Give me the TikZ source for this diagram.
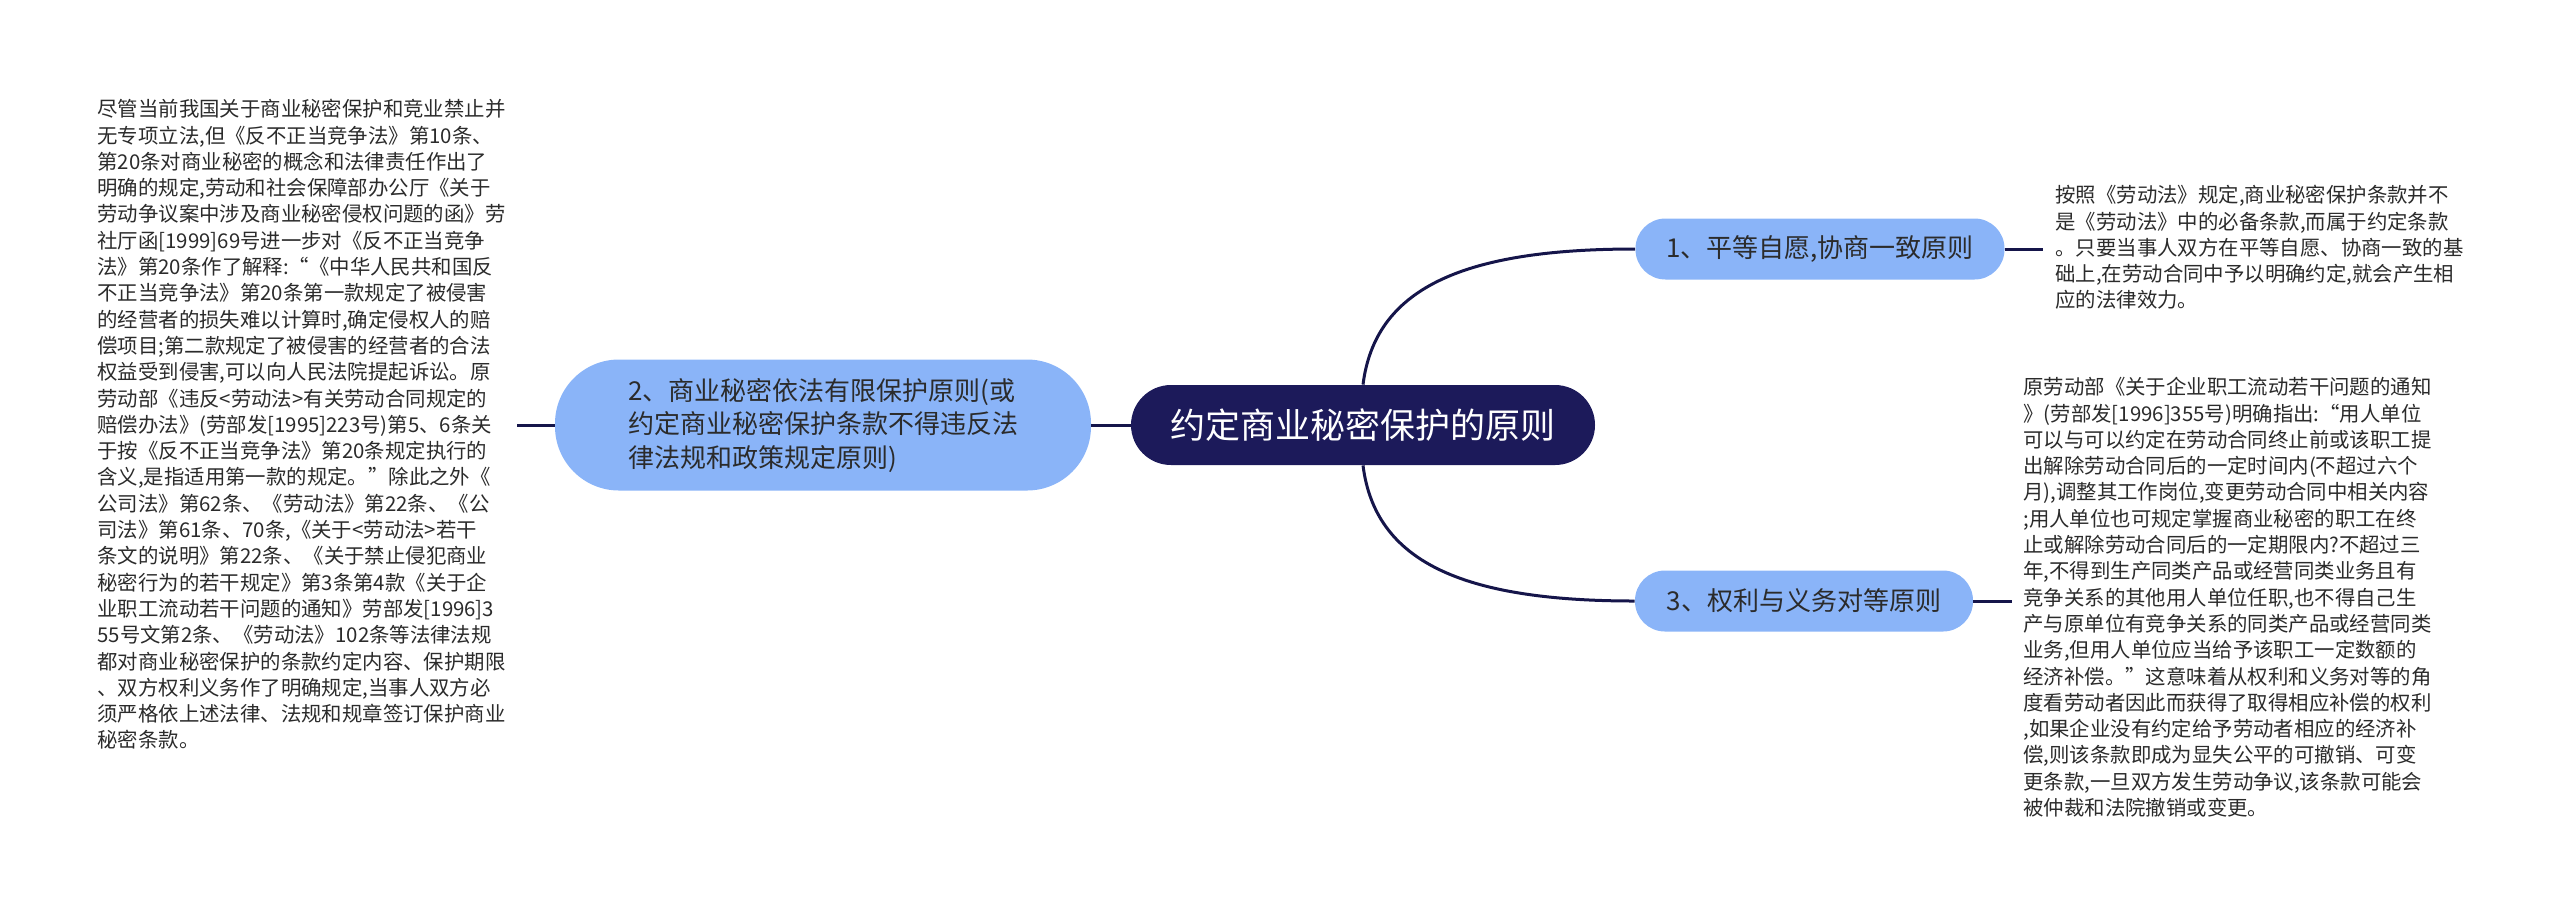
\documentclass[tikz,border=0pt]{standalone}
\usepackage{fontspec}
\newfontfamily\cjk{Noto Sans CJK SC}
\usepackage{xcolor}
\usetikzlibrary{positioning}

\definecolor{navy}{HTML}{1C1A5A}
\definecolor{linenavy}{HTML}{15154A}
\definecolor{topicblue}{HTML}{8AB4F8}
\definecolor{bodytext}{HTML}{2B2B2B}

\tikzset{
  rootbox/.style={fill=navy, text=white, rounded corners=20pt, minimum width=232pt,
    minimum height=40pt, inner sep=0pt, font=\cjk\fontsize{17.5}{21}\selectfont},
  topic/.style={fill=topicblue, text=bodytext, rounded corners=15pt, minimum height=30.5pt,
    inner sep=0pt, font=\cjk\fontsize{13}{16.75}\selectfont},
  note/.style={text=bodytext, align=left, inner sep=0pt, anchor=north west,
    font=\cjk\fontsize{10.2}{13.15}\selectfont},
  link/.style={draw=linenavy, line width=1.5pt},
}

\begin{document}
\begin{tikzpicture}[x=0.5pt, y=-0.5pt]

\useasboundingbox (0,0) rectangle (2560,923);

% Central topic and the three branches
\node[rootbox] (root) at (1363,425) {约定商业秘密保护的原则};
\node[topic, minimum width=184.5pt] (t1) at (1820,249) {1、平等自愿,协商一致原则};
\node[topic, minimum width=268pt, minimum height=65.5pt, rounded corners=32pt, align=left] (t2) at (823,425)
  {2、商业秘密依法有限保护原则(或\\约定商业秘密保护条款不得违反法\\律法规和政策规定原则)};
\node[topic, minimum width=169pt] (t3) at (1804,601) {3、权利与义务对等原则};

% Loose ends of the short stubs
\coordinate (lend) at (517,425);
\coordinate (r1end) at (2043,249);
\coordinate (r3end) at (2012,601);

% Connectors
\draw[link] (root.north) .. controls +(12,-95) and +(-175,0) .. (t1.west);
\draw[link] (root.south) .. controls +(12,95) and +(-175,0) .. (t3.west);
\draw[link] (t2.east) -- (root.west);
\draw[link] (t2.west) -- (lend);
\draw[link] (t1.east) -- (r1end);
\draw[link] (t3.east) -- (r3end);

% Detail texts
\node[note] (n2) at (97,99) {尽管当前我国关于商业秘密保护和竞业禁止并\\
无专项立法,但《反不正当竞争法》第10条、\\
第20条对商业秘密的概念和法律责任作出了\\
明确的规定,劳动和社会保障部办公厅《关于\\
劳动争议案中涉及商业秘密侵权问题的函》劳\\
社厅函[1999]69号进一步对《反不正当竞争\\
法》第20条作了解释:“《中华人民共和国反\\
不正当竞争法》第20条第一款规定了被侵害\\
的经营者的损失难以计算时,确定侵权人的赔\\
偿项目;第二款规定了被侵害的经营者的合法\\
权益受到侵害,可以向人民法院提起诉讼。原\\
劳动部《违反<劳动法>有关劳动合同规定的\\
赔偿办法》(劳部发[1995]223号)第5、6条关\\
于按《反不正当竞争法》第20条规定执行的\\
含义,是指适用第一款的规定。”除此之外《\\
公司法》第62条、《劳动法》第22条、《公\\
司法》第61条、70条,《关于<劳动法>若干\\
条文的说明》第22条、《关于禁止侵犯商业\\
秘密行为的若干规定》第3条第4款《关于企\\
业职工流动若干问题的通知》劳部发[1996]3\\
55号文第2条、《劳动法》102条等法律法规\\
都对商业秘密保护的条款约定内容、保护期限\\
、双方权利义务作了明确规定,当事人双方必\\
须严格依上述法律、法规和规章签订保护商业\\
秘密条款。};

\node[note] (n1) at (2055,185) {按照《劳动法》规定,商业秘密保护条款并不\\
是《劳动法》中的必备条款,而属于约定条款\\
。只要当事人双方在平等自愿、协商一致的基\\
础上,在劳动合同中予以明确约定,就会产生相\\
应的法律效力。};

\node[note] (n3) at (2023,377) {原劳动部《关于企业职工流动若干问题的通知\\
》(劳部发[1996]355号)明确指出:“用人单位\\
可以与可以约定在劳动合同终止前或该职工提\\
出解除劳动合同后的一定时间内(不超过六个\\
月),调整其工作岗位,变更劳动合同中相关内容\\
;用人单位也可规定掌握商业秘密的职工在终\\
止或解除劳动合同后的一定期限内?不超过三\\
年,不得到生产同类产品或经营同类业务且有\\
竞争关系的其他用人单位任职,也不得自己生\\
产与原单位有竞争关系的同类产品或经营同类\\
业务,但用人单位应当给予该职工一定数额的\\
经济补偿。”这意味着从权利和义务对等的角\\
度看劳动者因此而获得了取得相应补偿的权利\\
,如果企业没有约定给予劳动者相应的经济补\\
偿,则该条款即成为显失公平的可撤销、可变\\
更条款,一旦双方发生劳动争议,该条款可能会\\
被仲裁和法院撤销或变更。};

\end{tikzpicture}
\end{document}
